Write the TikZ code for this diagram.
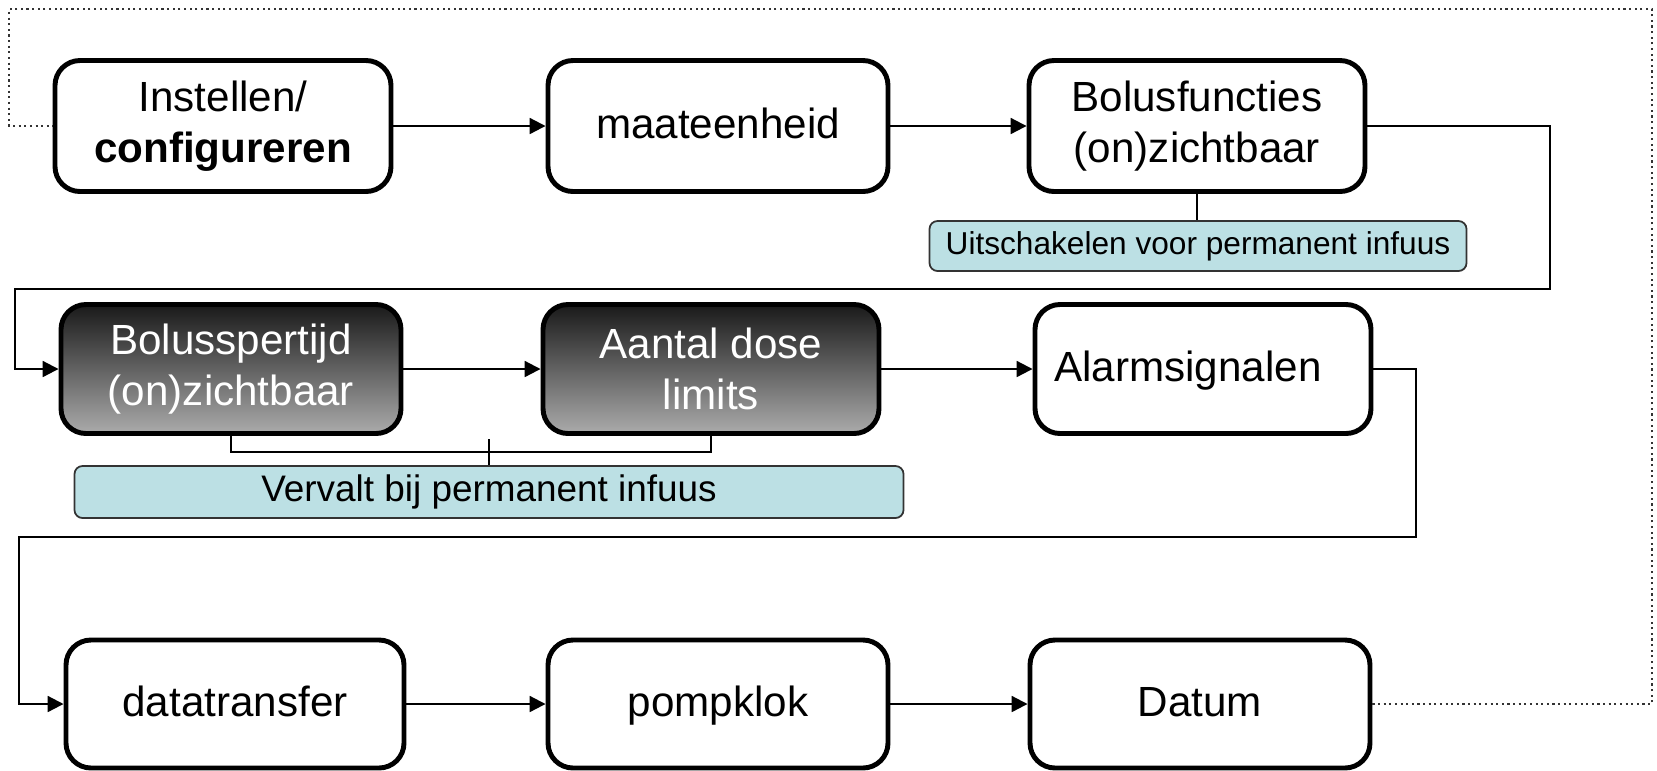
\documentclass[tikz,border=0pt]{standalone}
\usepackage{fontspec}
\setmainfont{Liberation Sans}
\usepackage{tikz}
\usetikzlibrary{calc,arrows.meta}

\tikzset{
  stepbox/.style={draw,line width=1.4pt,rounded corners=0.25cm,fill=white,
    minimum width=3.36cm,minimum height=1.31cm,inner sep=0pt,align=center,
    font=\fontsize{12}{14.4}\selectfont},
  oneline/.style={text height=1.75ex,text depth=0.45ex},
  darkbox/.style={stepbox,top color=black!90,bottom color=black!33,text=white},
  notebox/.style={draw=black!80,line width=0.5pt,rounded corners=0.08cm,
    fill=notecyan,inner sep=0pt,align=center},
  flow/.style={line width=0.6pt,-{Triangle[length=4.5pt,width=4.5pt]}},
  link/.style={line width=0.6pt},
  loopback/.style={line width=0.6pt,densely dotted,black!80}
}
\definecolor{notecyan}{RGB}{188,224,228}

\begin{document}
\begin{tikzpicture}
\useasboundingbox (0,0) rectangle (16.57,-7.70);

% first row
\node[stepbox] (inst) at (2.23,-1.26) {Instellen/\\\textbf{configureren}};
\node[stepbox,oneline,minimum width=3.40cm] (unit) at (7.18,-1.26) {maateenheid};
\node[stepbox] (bolus) at (11.97,-1.26) {Bolusfuncties\\(on)zichtbaar};
\node[notebox,minimum width=5.37cm,minimum height=0.50cm,font=\fontsize{9}{11}\selectfont]
  (note1) at (11.98,-2.46) {Uitschakelen voor permanent infuus};

% second row
\node[darkbox,minimum width=3.40cm,minimum height=1.29cm] (spert) at (2.31,-3.69) {Bolusspertijd\\(on)zichtbaar};
\node[darkbox,minimum height=1.29cm] (dose) at (7.11,-3.69) {Aantal dose\\limits};
\node[stepbox,oneline,minimum height=1.29cm] (alarm) at (12.03,-3.69) {Alarmsignalen\hspace*{0.3cm}};
\node[notebox,minimum width=8.29cm,minimum height=0.52cm,font=\fontsize{10.5}{12.6}\selectfont]
  (note2) at (4.89,-4.92) {Vervalt bij permanent infuus};

% third row
\node[stepbox,oneline,minimum width=3.38cm,minimum height=1.28cm] (transfer) at (2.35,-7.04) {datatransfer};
\node[stepbox,oneline,minimum width=3.40cm,minimum height=1.28cm] (clock) at (7.18,-7.04) {pompklok};
\node[stepbox,oneline,minimum width=3.40cm,minimum height=1.28cm] (date) at (12.00,-7.04) {Datum};

% corner points of the connectors
\coordinate (r1) at (15.50,-2.89);
\coordinate (l1) at (0.15,-2.89);
\coordinate (r2) at (14.16,-5.37);
\coordinate (l2) at (0.19,-5.37);
\coordinate (fr) at (16.52,-0.09);
\coordinate (fl) at (0.09,-0.09);

% flow
\draw[flow] (inst) -- (unit);
\draw[flow] (unit) -- (bolus);
\draw[flow] (bolus.east) -| (r1) -- (l1) |- (spert.west);
\draw[flow] (spert) -- (dose);
\draw[flow] (dose) -- (alarm);
\draw[flow] (alarm.east) -| (r2) -- (l2) |- (transfer.west);
\draw[flow] (transfer) -- (clock);
\draw[flow] (clock) -- (date);

% notes
\draw[link] (bolus.south) -- (bolus.south |- note1.north);
\draw[link] (spert.south) -- ++(0,-0.16) -| (dose.south);
\draw[link] (note2.north) -- ++(0,0.26);

% dotted loop back to the start
\draw[loopback] (date.east) -| (fr) -- (fl) |- (inst.west);

\end{tikzpicture}
\end{document}
